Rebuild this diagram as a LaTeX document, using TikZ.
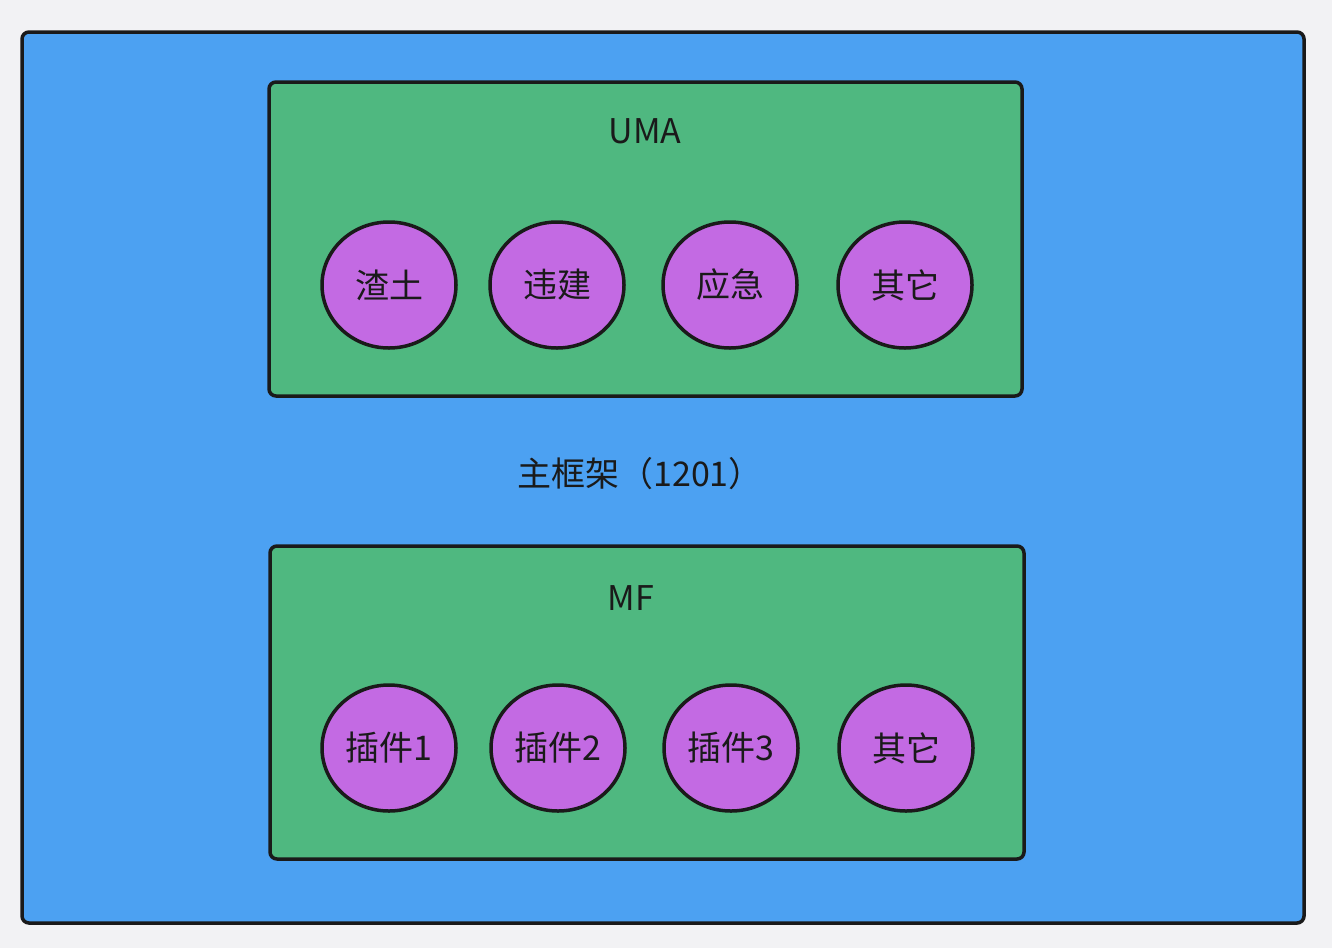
\documentclass[tikz,border=0pt]{standalone}
\usepackage{fontspec}
\setmainfont{Noto Sans CJK SC}
\usetikzlibrary{shapes.geometric}
\definecolor{bgc}{HTML}{F2F2F4}
\definecolor{bluec}{HTML}{4CA1F2}
\definecolor{greenc}{HTML}{4FB880}
\definecolor{purplec}{HTML}{C36AE3}
\definecolor{inkc}{HTML}{1A1A1A}
\tikzset{
  frame/.style={draw=inkc, line width=3.5pt, rounded corners=7pt},
  oval/.style={ellipse, draw=inkc, line width=3.5pt, fill=purplec, minimum width=134pt, minimum height=126pt, inner sep=0pt, text=inkc, font=\fontsize{34}{40}\selectfont},
  lbl/.style={text=inkc, font=\fontsize{34}{40}\selectfont, inner sep=0pt}
}
\begin{document}
\begin{tikzpicture}[x=1pt,y=-1pt]
\fill[bgc] (0,0) rectangle (1332,948);
\useasboundingbox (0,0) rectangle (1332,948);
\draw[frame, fill=bluec] (22,32) rectangle (1304,923);
\draw[frame, fill=greenc] (269,82) rectangle (1022,396);
\draw[frame, fill=greenc] (270,546) rectangle (1024,859);
\node[lbl] (main) at (640,474) {主框架（1201）};
\node[lbl] (uma) at (645,131) {UMA};
\node[lbl] (mf) at (631,598) {MF};
\node[oval] (a1) at (389,285) {渣土};
\node[oval] (a2) at (557,285) {违建};
\node[oval] (a3) at (730,285) {应急};
\node[oval] (a4) at (905,285) {其它};
\node[oval] (b1) at (389,748) {插件1};
\node[oval] (b2) at (558,748) {插件2};
\node[oval] (b3) at (731,748) {插件3};
\node[oval] (b4) at (906,748) {其它};
\end{tikzpicture}
\end{document}
